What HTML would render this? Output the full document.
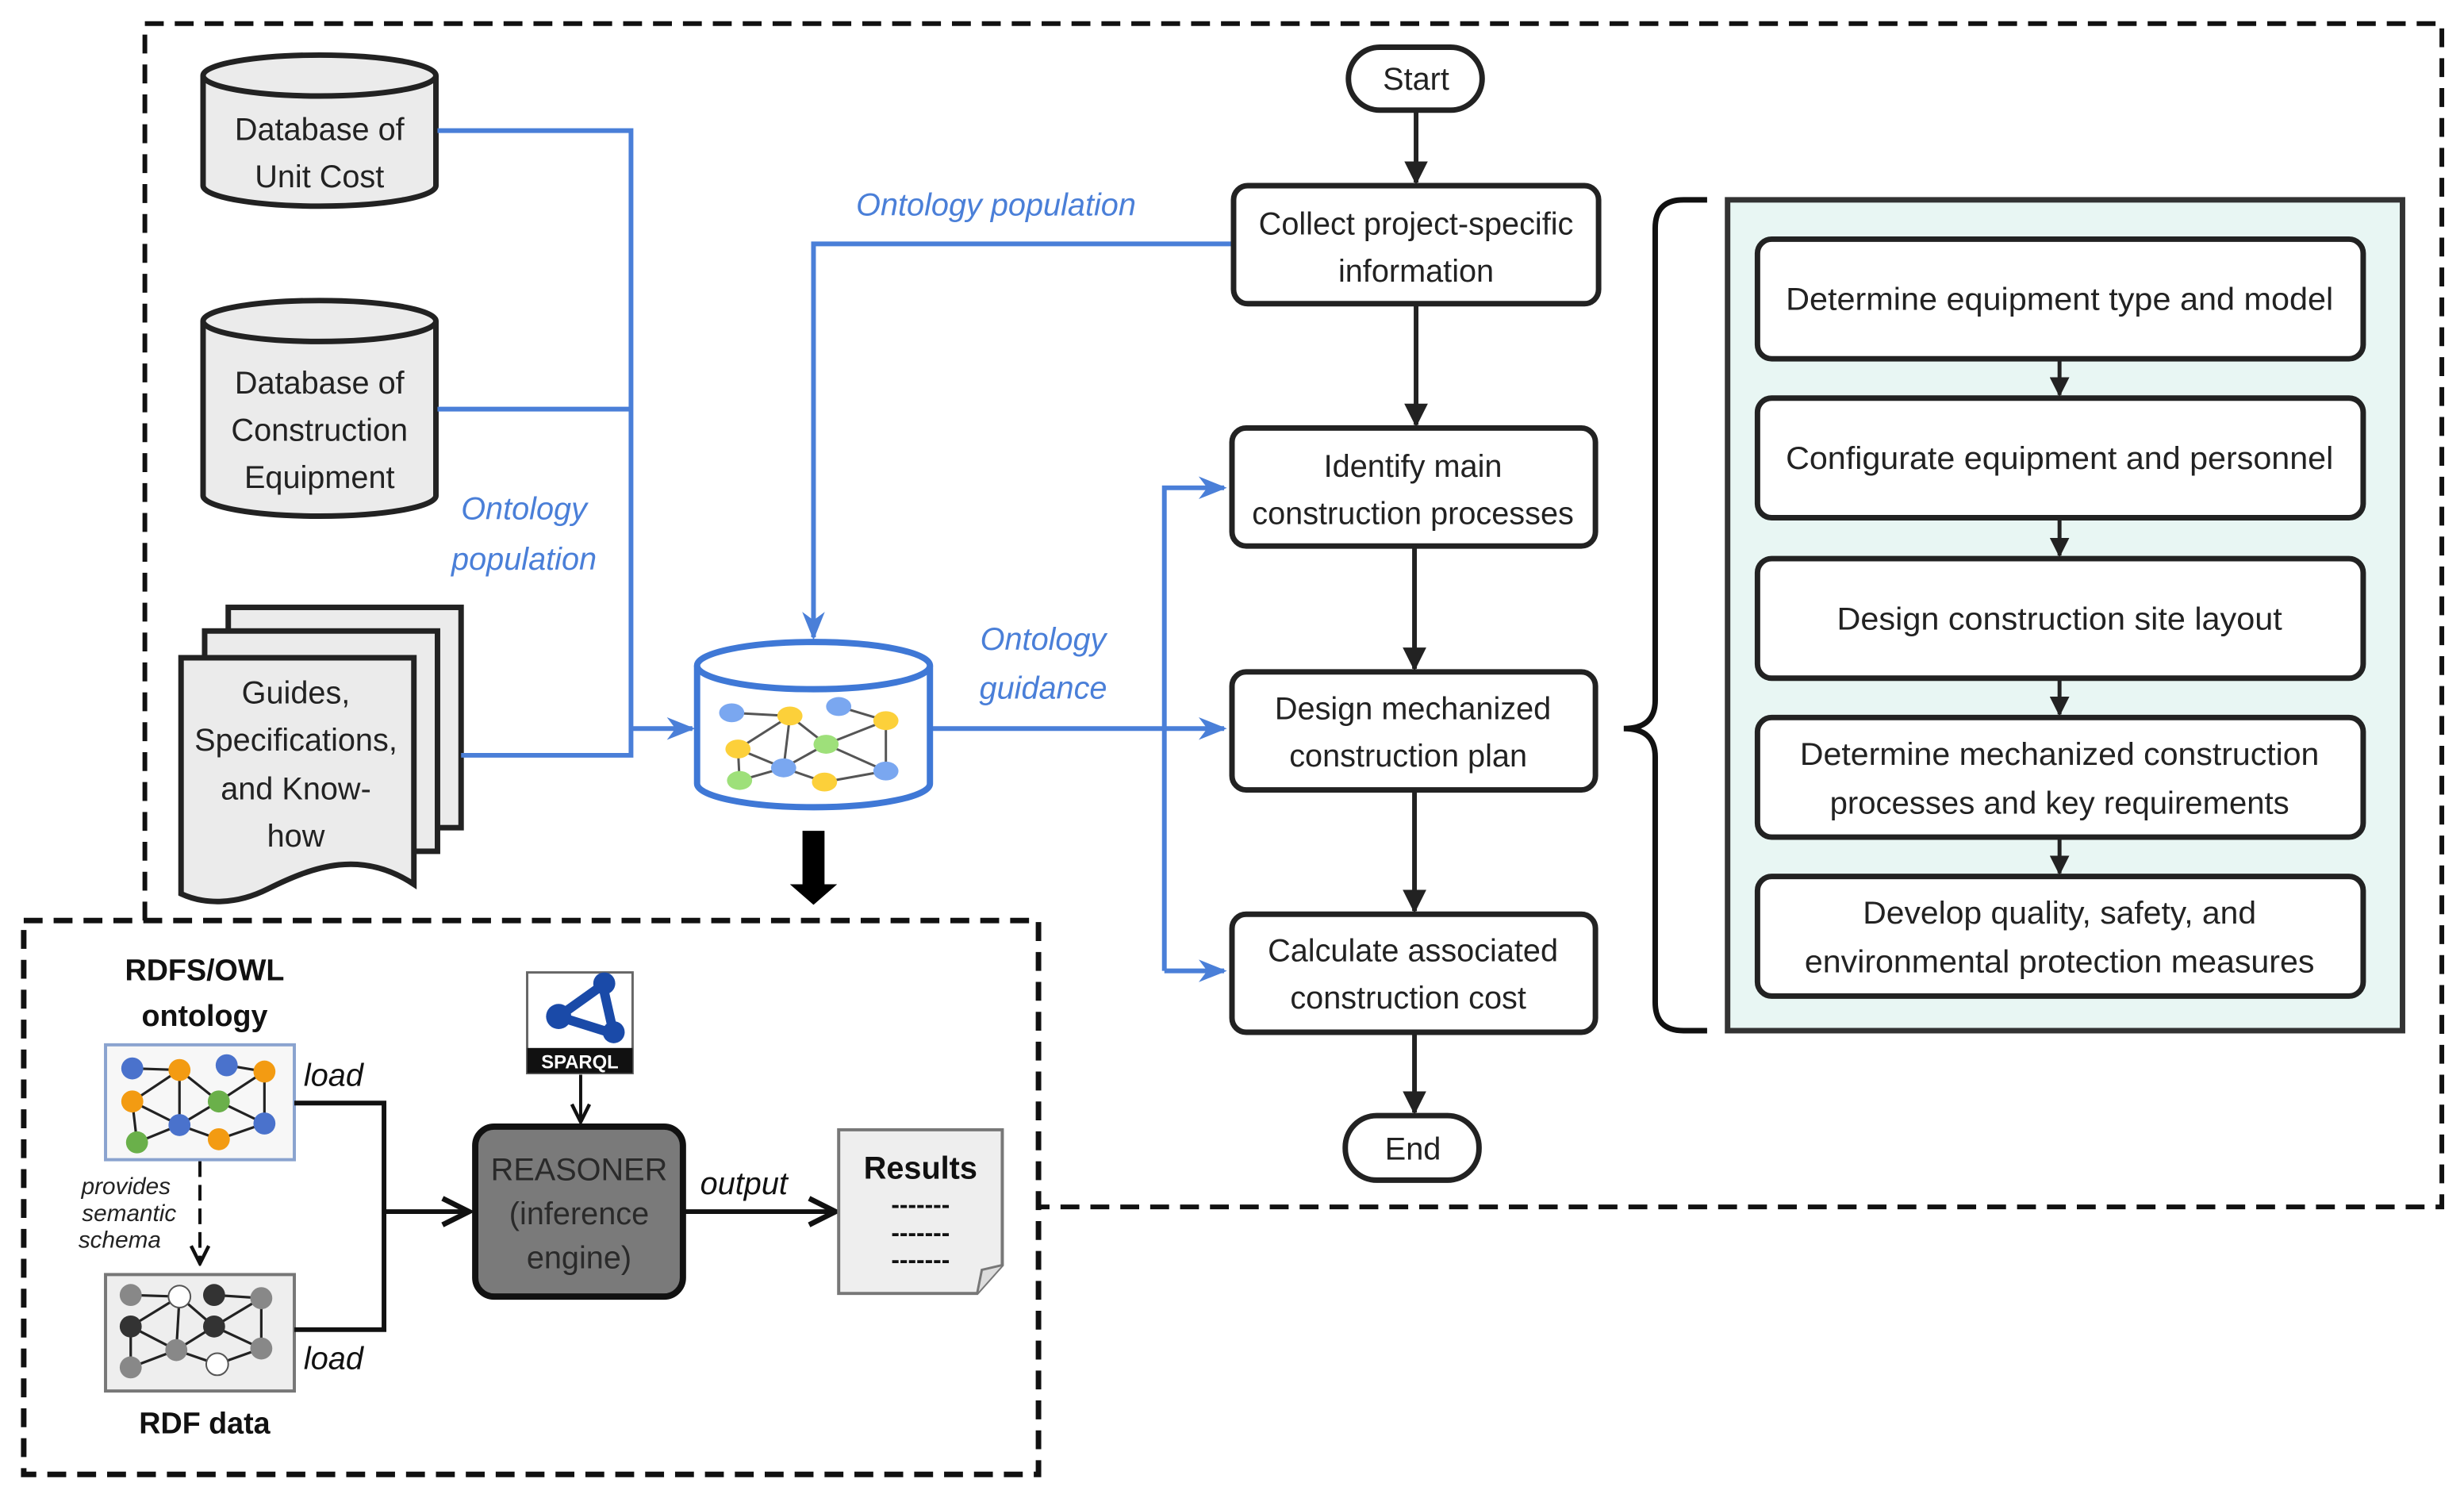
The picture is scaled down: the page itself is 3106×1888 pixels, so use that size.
<!DOCTYPE html>
<html><head><meta charset="utf-8"><style>html,body{margin:0;padding:0;background:#fff}svg{display:block}</style></head>
<body>
<svg width="3106" height="1888" viewBox="0 0 1566 952" xmlns="http://www.w3.org/2000/svg" font-family="Liberation Sans, sans-serif">
<defs>
<marker id="ab" viewBox="0 0 10 10" refX="9" refY="5" markerWidth="5" markerHeight="5" orient="auto"><path d="M0,0 L10,5 L0,10 z" fill="#222"/></marker>
<marker id="ao" viewBox="0 0 10 10" refX="9" refY="5" markerWidth="7" markerHeight="7" orient="auto"><path d="M1,1 L9,5 L1,9" fill="none" stroke="#111" stroke-width="1.6"/></marker>
<marker id="abl" viewBox="0 0 10 10" refX="9" refY="5" markerWidth="6" markerHeight="6" orient="auto"><path d="M0,1 L10,5 L0,9 L3,5 z" fill="#4a7fd8"/></marker>
</defs>

<path d="M92,585 L92,15 L1552,15 L1552,767 L660,767" fill="none" stroke="#111" stroke-width="3" stroke-dasharray="12,7"/>
<rect x="15" y="585" width="645" height="352" fill="none" stroke="#111" stroke-width="3.5" stroke-dasharray="12,7"/>

<g stroke="#222" stroke-width="3.5" fill="#ebebeb">
<path d="M129,48 L129,118 A74,13 0 0 0 277,118 L277,48"/>
<ellipse cx="203" cy="48" rx="74" ry="13"/>
<path d="M129,204 L129,315 A74,13 0 0 0 277,315 L277,204"/>
<ellipse cx="203" cy="204" rx="74" ry="13"/>
</g>
<g font-size="20" fill="#222" text-anchor="middle">
<text x="203" y="89">Database of</text>
<text x="203" y="119">Unit Cost</text>
<text x="203" y="250">Database of</text>
<text x="203" y="280">Construction</text>
<text x="203" y="310">Equipment</text>
</g>

<g stroke="#222" stroke-width="3.5" fill="#ebebeb">
<rect x="145" y="386" width="148" height="140"/>
<rect x="130" y="401" width="148" height="140"/>
<path d="M115,418 L263,418 L263,562 C230,540 200,550 170,565 C150,575 130,575 115,568 Z"/>
</g>
<g font-size="20" fill="#222" text-anchor="middle">
<text x="188" y="447">Guides,</text>
<text x="188" y="477">Specifications,</text>
<text x="188" y="508">and Know-</text>
<text x="188" y="538">how</text>
</g>

<g stroke="#4a7fd8" stroke-width="3" fill="none">
<path d="M278,83 L401,83 L401,480 L293,480"/>
<path d="M278,260 L401,260"/>
<path d="M401,463 L440,463" marker-end="url(#abl)"/>
<path d="M783,155 L517,155 L517,405" marker-end="url(#abl)"/>
<path d="M592,463 L778,463" marker-end="url(#abl)"/>
<path d="M740,617 L740,310 L778,310" marker-end="url(#abl)"/>
<path d="M740,617 L778,617" marker-end="url(#abl)"/>
</g>
<g font-size="20" fill="#4a7fd8" font-style="italic" text-anchor="middle">
<text x="333" y="330">Ontology</text>
<text x="333" y="362">population</text>
<text x="633" y="137">Ontology population</text>
<text x="663" y="413">Ontology</text>
<text x="663" y="444">guidance</text>
</g>

<g stroke="#3f78d6" stroke-width="4" fill="#fff">
<path d="M443,423 L443,498 A74,15 0 0 0 591,498 L591,423"/>
<ellipse cx="517" cy="423" rx="74" ry="15"/>
</g>
<g stroke="#555" stroke-width="1.5">
<line x1="465" y1="453" x2="502" y2="455"/><line x1="533" y1="449" x2="563" y2="458"/>
<line x1="469" y1="476" x2="502" y2="455"/><line x1="502" y1="455" x2="498" y2="488"/>
<line x1="502" y1="455" x2="525" y2="473"/><line x1="525" y1="473" x2="563" y2="458"/>
<line x1="563" y1="458" x2="563" y2="490"/><line x1="469" y1="476" x2="498" y2="488"/>
<line x1="498" y1="488" x2="525" y2="473"/><line x1="525" y1="473" x2="563" y2="490"/>
<line x1="469" y1="476" x2="470" y2="496"/><line x1="470" y1="496" x2="498" y2="488"/>
<line x1="498" y1="488" x2="524" y2="497"/><line x1="524" y1="497" x2="563" y2="490"/>
</g>
<g>
<ellipse cx="465" cy="453" rx="8" ry="6" fill="#7aa7f0"/><ellipse cx="502" cy="455" rx="8" ry="6" fill="#fcd03a"/>
<ellipse cx="533" cy="449" rx="8" ry="6" fill="#7aa7f0"/><ellipse cx="563" cy="458" rx="8" ry="6" fill="#fcd03a"/>
<ellipse cx="469" cy="476" rx="8" ry="6" fill="#fcd03a"/><ellipse cx="525" cy="473" rx="8" ry="6" fill="#9ee07a"/>
<ellipse cx="498" cy="488" rx="8" ry="6" fill="#7aa7f0"/><ellipse cx="563" cy="490" rx="8" ry="6" fill="#7aa7f0"/>
<ellipse cx="470" cy="496" rx="8" ry="6" fill="#9ee07a"/><ellipse cx="524" cy="497" rx="8" ry="6" fill="#fcd03a"/>
</g>
<path d="M510,528 L524,528 L524,562 L532,562 L517,575 L502,562 L510,562 Z" fill="#000"/>

<g stroke="#222" stroke-width="3.5" fill="#fff">
<rect x="857" y="30" width="85" height="40" rx="20"/>
<rect x="784" y="118" width="232" height="75" rx="9"/>
<rect x="783" y="272" width="231" height="75" rx="9"/>
<rect x="783" y="427" width="231" height="75" rx="9"/>
<rect x="783" y="581" width="231" height="75" rx="9"/>
<rect x="855" y="709" width="85" height="41" rx="20"/>
</g>
<g stroke="#222" stroke-width="3" fill="none">
<line x1="900" y1="70" x2="900" y2="116" marker-end="url(#ab)"/>
<line x1="900" y1="193" x2="900" y2="270" marker-end="url(#ab)"/>
<line x1="899" y1="347" x2="899" y2="425" marker-end="url(#ab)"/>
<line x1="899" y1="502" x2="899" y2="579" marker-end="url(#ab)"/>
<line x1="899" y1="656" x2="899" y2="707" marker-end="url(#ab)"/>
</g>
<g font-size="20" fill="#222" text-anchor="middle">
<text x="900" y="57">Start</text>
<text x="900" y="149">Collect project-specific</text>
<text x="900" y="179">information</text>
<text x="898" y="303">Identify main</text>
<text x="898" y="333">construction processes</text>
<text x="898" y="457">Design mechanized</text>
<text x="895" y="487">construction plan</text>
<text x="898" y="611">Calculate associated</text>
<text x="895" y="641">construction cost</text>
<text x="898" y="737">End</text>
</g>

<path d="M1085,127 L1070,127 Q1052,127 1052,145 L1052,445 Q1052,463 1032,463 Q1052,463 1052,481 L1052,637 Q1052,655 1070,655 L1085,655" fill="none" stroke="#111" stroke-width="3.5"/>

<rect x="1098" y="127" width="429" height="528" fill="#e8f6f3" stroke="#333" stroke-width="3.5"/>
<g stroke="#222" stroke-width="3.5" fill="#fff">
<rect x="1117" y="152" width="385" height="76" rx="9"/>
<rect x="1117" y="253" width="385" height="76" rx="9"/>
<rect x="1117" y="355" width="385" height="76" rx="9"/>
<rect x="1117" y="456" width="385" height="76" rx="9"/>
<rect x="1117" y="557" width="385" height="76" rx="9"/>
</g>
<g stroke="#222" stroke-width="2.5">
<line x1="1309" y1="228" x2="1309" y2="251" marker-end="url(#ab)"/>
<line x1="1309" y1="329" x2="1309" y2="353" marker-end="url(#ab)"/>
<line x1="1309" y1="431" x2="1309" y2="454" marker-end="url(#ab)"/>
<line x1="1309" y1="532" x2="1309" y2="555" marker-end="url(#ab)"/>
</g>
<g font-size="20" fill="#222" text-anchor="middle">
<text x="1309" y="197" textLength="348" lengthAdjust="spacingAndGlyphs">Determine equipment type and model</text>
<text x="1309" y="298" textLength="348" lengthAdjust="spacingAndGlyphs">Configurate equipment and personnel</text>
<text x="1309" y="400" textLength="283" lengthAdjust="spacingAndGlyphs">Design construction site layout</text>
<text x="1309" y="486" textLength="330" lengthAdjust="spacingAndGlyphs">Determine mechanized construction</text>
<text x="1309" y="517" textLength="292" lengthAdjust="spacingAndGlyphs">processes and key requirements</text>
<text x="1309" y="587" textLength="250" lengthAdjust="spacingAndGlyphs">Develop quality, safety, and</text>
<text x="1309" y="618" textLength="324" lengthAdjust="spacingAndGlyphs">environmental protection measures</text>
</g>

<g font-size="19" font-weight="bold" fill="#111" text-anchor="middle">
<text x="130" y="623">RDFS/OWL</text>
<text x="130" y="652">ontology</text>
<text x="130" y="911">RDF data</text>
</g>
<rect x="67" y="664" width="120" height="73" fill="#f7f7f7" stroke="#8aa3cf" stroke-width="2"/>
<g stroke="#222" stroke-width="1.6">
<line x1="84" y1="679" x2="114" y2="680"/><line x1="144" y1="677" x2="168" y2="681"/>
<line x1="84" y1="700" x2="114" y2="680"/><line x1="114" y1="680" x2="114" y2="715"/>
<line x1="114" y1="680" x2="139" y2="700"/><line x1="139" y1="700" x2="168" y2="681"/>
<line x1="168" y1="681" x2="168" y2="714"/><line x1="84" y1="700" x2="114" y2="715"/>
<line x1="114" y1="715" x2="139" y2="700"/><line x1="139" y1="700" x2="168" y2="714"/>
<line x1="84" y1="700" x2="87" y2="726"/><line x1="87" y1="726" x2="114" y2="715"/>
<line x1="114" y1="715" x2="139" y2="724"/><line x1="139" y1="724" x2="168" y2="714"/>
</g>
<g>
<circle cx="84" cy="679" r="7" fill="#4a72cc"/><circle cx="114" cy="680" r="7" fill="#f39b12"/>
<circle cx="144" cy="677" r="7" fill="#4a72cc"/><circle cx="168" cy="681" r="7" fill="#f39b12"/>
<circle cx="84" cy="700" r="7" fill="#f39b12"/><circle cx="139" cy="700" r="7" fill="#6ab04a"/>
<circle cx="114" cy="715" r="7" fill="#4a72cc"/><circle cx="168" cy="714" r="7" fill="#4a72cc"/>
<circle cx="87" cy="726" r="7" fill="#6ab04a"/><circle cx="139" cy="724" r="7" fill="#f39b12"/>
</g>
<rect x="67" y="810" width="120" height="74" fill="#eee" stroke="#777" stroke-width="2"/>
<g stroke="#222" stroke-width="1.6">
<line x1="83" y1="823" x2="114" y2="824"/><line x1="136" y1="823" x2="166" y2="825"/>
<line x1="83" y1="843" x2="114" y2="824"/><line x1="114" y1="824" x2="112" y2="858"/>
<line x1="114" y1="824" x2="136" y2="843"/><line x1="136" y1="843" x2="166" y2="825"/>
<line x1="166" y1="825" x2="166" y2="857"/><line x1="83" y1="843" x2="112" y2="858"/>
<line x1="112" y1="858" x2="136" y2="843"/><line x1="136" y1="843" x2="166" y2="857"/>
<line x1="83" y1="843" x2="83" y2="869"/><line x1="83" y1="869" x2="112" y2="858"/>
<line x1="112" y1="858" x2="138" y2="867"/><line x1="138" y1="867" x2="166" y2="857"/>
</g>
<g>
<circle cx="83" cy="823" r="7" fill="#888"/><circle cx="114" cy="824" r="7" fill="#fff" stroke="#555"/>
<circle cx="136" cy="823" r="7" fill="#333"/><circle cx="166" cy="825" r="7" fill="#888"/>
<circle cx="83" cy="843" r="7" fill="#333"/><circle cx="136" cy="843" r="7" fill="#333"/>
<circle cx="112" cy="858" r="7" fill="#888"/><circle cx="166" cy="857" r="7" fill="#888"/>
<circle cx="83" cy="869" r="7" fill="#888"/><circle cx="138" cy="867" r="7" fill="#fff" stroke="#555"/>
</g>
<path d="M127,738 L127,803" stroke="#111" stroke-width="2" stroke-dasharray="10,5" fill="none" marker-end="url(#ao)"/>
<g font-size="15" font-style="italic" fill="#222" text-anchor="middle">
<text x="80" y="759">provides</text>
<text x="82" y="776">semantic</text>
<text x="76" y="793">schema</text>
</g>
<g font-size="20" font-style="italic" fill="#111">
<text x="193" y="690">load</text>
<text x="193" y="870">load</text>
<text x="445" y="759">output</text>
</g>
<g stroke="#111" stroke-width="3" fill="none">
<path d="M187,701 L244,701 L244,845 L187,845"/>
<path d="M244,770 L298,770" marker-end="url(#ao)"/>
<path d="M434,770 L531,770" marker-end="url(#ao)"/>
<path d="M369,683 L369,713" stroke-width="2" marker-end="url(#ao)"/>
</g>
<rect x="335" y="618" width="67" height="64" fill="#fff" stroke="#666" stroke-width="1.5"/>
<rect x="335" y="666" width="67" height="16" fill="#111"/>
<text x="368.5" y="679" font-size="12" font-weight="bold" fill="#fff" text-anchor="middle">SPARQL</text>
<g stroke="#1a4aa8" stroke-width="6" fill="none"><path d="M355,646 L383,626 L390,657 Z"/></g>
<circle cx="355" cy="646" r="8" fill="#1a4aa8"/><circle cx="384" cy="625" r="7" fill="#1a4aa8"/><circle cx="390" cy="656" r="7" fill="#1a4aa8"/>
<rect x="302" y="716" width="132" height="108" rx="12" fill="#7a7a7a" stroke="#111" stroke-width="4"/>
<g font-size="20" fill="#2a2a2a" text-anchor="middle">
<text x="368" y="750">REASONER</text>
<text x="368" y="778">(inference</text>
<text x="368" y="806">engine)</text>
</g>
<path d="M533,718 L637,718 L637,804 L621,822 L533,822 Z" fill="#eee" stroke="#777" stroke-width="2"/>
<path d="M621,822 L624,807 L637,804" fill="#ddd" stroke="#777" stroke-width="1.5"/>
<text x="585" y="749" font-size="20" font-weight="bold" fill="#111" text-anchor="middle">Results</text>
<g font-size="16" font-weight="bold" fill="#111" text-anchor="middle">
<text x="585" y="771">-------</text>
<text x="585" y="789">-------</text>
<text x="585" y="806">-------</text>
</g>
</svg>
</body></html>
